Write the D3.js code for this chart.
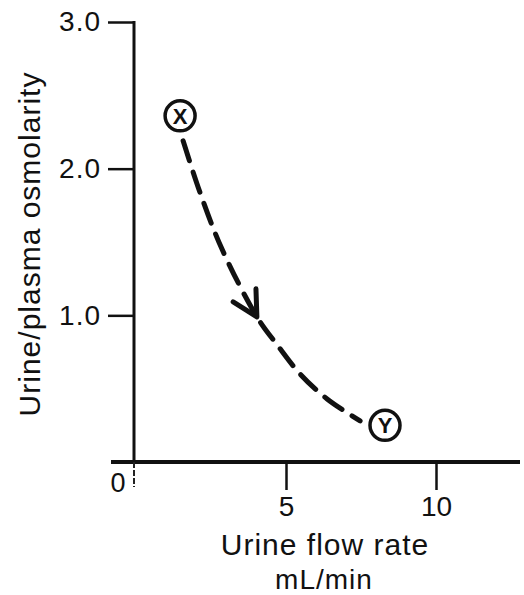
<!DOCTYPE html>
<html>
<head>
<meta charset="utf-8">
<script src="https://cdn.jsdelivr.net/npm/d3@7"></script>
<style>
  body { margin: 0; background: #fff; }
  svg text { font-family: "Liberation Sans", Arial, sans-serif; fill: #111; }
</style>
</head>
<body>
<div id="chart"></div>
<script>
'use strict';

// data
var xTicks = [5, 10];
var yTicks = [1, 2, 3];
var yTickLabels = ["1.0", "2.0", "3.0"];
// dashed path from X to Y (flow mL/min, osmolarity ratio)
var curveX = [1.57, 2.13, 2.87, 4.03, 4.70, 5.47, 6.37, 7.47];
var curveY = [2.19, 1.84, 1.45, 0.99, 0.80, 0.60, 0.43, 0.28];
var arrowAt = 3;
var points = [
  { label: "X", x: 1.47, y: 2.36 },
  { label: "Y", x: 8.30, y: 0.25 }
];

var W = 524, H = 595;
var x = d3.scaleLinear().domain([0, 12.8]).range([136, 520]);
var y = d3.scaleLinear().domain([0, 3]).range([462, 22]);

var svg = d3.select("#chart").append("svg")
  .attr("width", W)
  .attr("height", H);

// axes lines
svg.append("line")
  .attr("x1", x(0) - 25).attr("x2", x(12.8))
  .attr("y1", y(0)).attr("y2", y(0))
  .attr("stroke", "#111").attr("stroke-width", 4);

svg.append("line")
  .attr("x1", x(0) - 2).attr("x2", x(0) - 2)
  .attr("y1", y(3) - 1).attr("y2", y(0))
  .attr("stroke", "#111").attr("stroke-width", 3);
// faint stub under the x axis
svg.append("line")
  .attr("x1", x(0) - 2).attr("x2", x(0) - 2)
  .attr("y1", y(0)).attr("y2", y(0) + 25)
  .attr("stroke", "#222").attr("stroke-width", 2)
  .attr("stroke-dasharray", "6,2");

var yAxis = d3.axisLeft(y)
  .tickValues(yTicks)
  .tickSize(26)
  .tickPadding(7)
  .tickFormat(function (d, i) { return yTickLabels[i]; });

var gy = svg.append("g")
  .attr("transform", "translate(" + (x(0) - 2) + ",0)")
  .call(yAxis);
gy.select(".domain").remove();
gy.selectAll(".tick line").attr("stroke", "#111").attr("stroke-width", 2.5);
gy.selectAll(".tick text").attr("font-size", 28).attr("letter-spacing", 1).attr("fill", "#111");

var xAxis = d3.axisBottom(x)
  .tickValues(xTicks)
  .tickSize(28)
  .tickPadding(6)
  .tickFormat(d3.format("d"));

var gx = svg.append("g")
  .attr("transform", "translate(0," + y(0) + ")")
  .call(xAxis);
gx.select(".domain").remove();
gx.selectAll(".tick line").attr("stroke", "#111").attr("stroke-width", 2.5);
gx.selectAll(".tick text").attr("font-size", 28).attr("fill", "#111");

svg.append("text")
  .attr("x", x(0) - 18).attr("y", y(0) + 30)
  .attr("text-anchor", "middle")
  .attr("font-size", 27)
  .text("0");

// axis titles
svg.append("text")
  .attr("transform", "translate(40,244) rotate(-90)")
  .attr("text-anchor", "middle")
  .attr("font-size", 30)
  .attr("letter-spacing", 1)
  .text("Urine/plasma osmolarity");

svg.append("text")
  .attr("x", 325).attr("y", 555)
  .attr("text-anchor", "middle")
  .attr("font-size", 30)
  .attr("letter-spacing", 1)
  .text("Urine flow rate");

svg.append("text")
  .attr("x", 324).attr("y", 589)
  .attr("text-anchor", "middle")
  .attr("font-size", 28)
  .attr("letter-spacing", 1)
  .text("mL/min");

// dashed curve
var curve = curveX.map(function (d, i) { return [d, curveY[i]]; });
var line = d3.line()
  .x(function (d) { return x(d[0]); })
  .y(function (d) { return y(d[1]); })
  .curve(d3.curveCatmullRom);

svg.append("path")
  .datum(curve)
  .attr("d", line)
  .attr("fill", "none")
  .attr("stroke", "#111")
  .attr("stroke-width", 5)
  .attr("stroke-linecap", "round")
  .attr("stroke-dasharray", "21,12");

// open arrowhead on the curve
var tip = curve[arrowAt], prev = curve[arrowAt - 1], next = curve[arrowAt + 1];
var ang = Math.atan2(y(next[1]) - y(prev[1]), x(next[0]) - x(prev[0]));
var back = ang + Math.PI, spread = 28 * Math.PI / 180, len = 28;
var tx = x(tip[0]), ty = y(tip[1]);
svg.append("path")
  .attr("d", "M" + (tx + len * Math.cos(back - spread)) + "," + (ty + len * Math.sin(back - spread)) +
    "L" + tx + "," + ty +
    "L" + (tx + len * Math.cos(back + spread)) + "," + (ty + len * Math.sin(back + spread)))
  .attr("fill", "none")
  .attr("stroke", "#111")
  .attr("stroke-width", 5)
  .attr("stroke-linecap", "round")
  .attr("stroke-linejoin", "round");

// circled labels
var pts = svg.selectAll(".pt")
  .data(points)
  .enter().append("g")
  .attr("class", "pt")
  .attr("transform", function (d) { return "translate(" + x(d.x) + "," + y(d.y) + ")"; });

pts.append("circle")
  .attr("r", 15)
  .attr("fill", "#fff")
  .attr("stroke", "#111")
  .attr("stroke-width", 3.5);

pts.append("text")
  .attr("text-anchor", "middle")
  .attr("dy", "0.36em")
  .attr("font-size", 22)
  .attr("font-weight", "bold")
  .text(function (d) { return d.label; });
</script>
</body>
</html>
